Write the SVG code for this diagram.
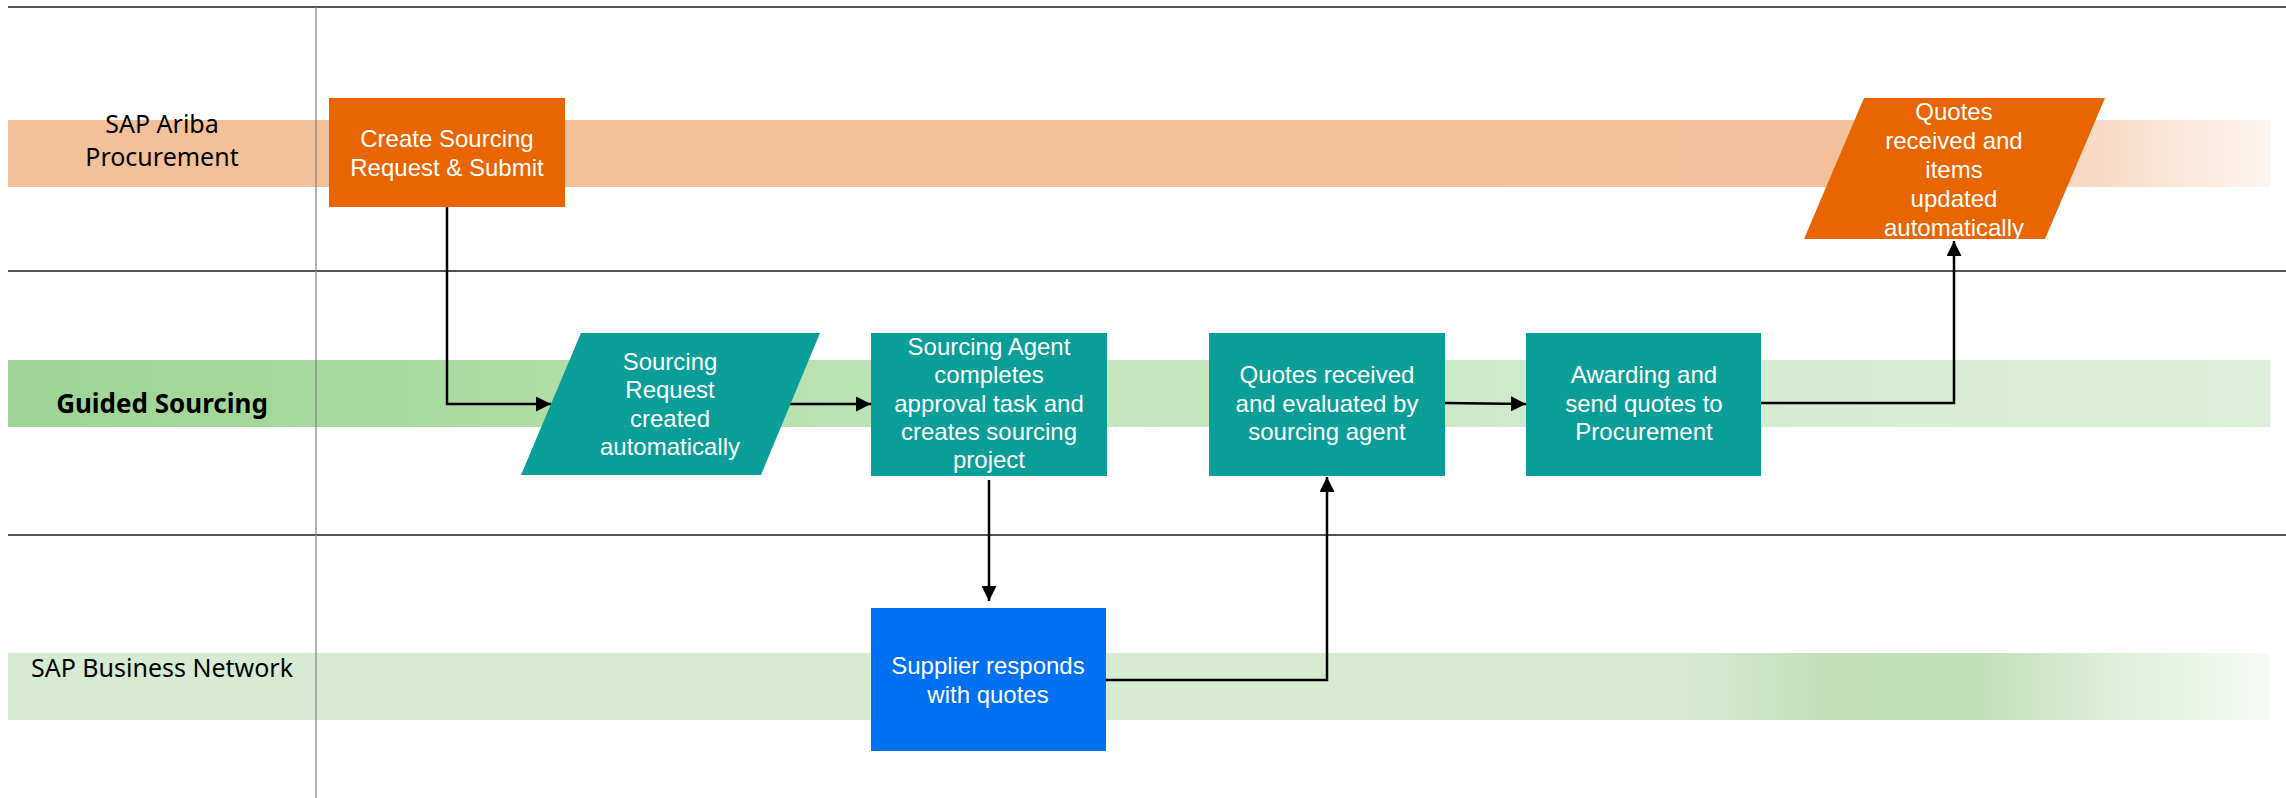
<svg xmlns="http://www.w3.org/2000/svg" width="2286" height="798" viewBox="0 0 2286 798">
<style>
.lane{font-family:"Noto Sans","Liberation Sans",sans-serif;font-size:25px;fill:#000;}
.laneb{font-family:"Noto Sans","Liberation Sans",sans-serif;font-size:26px;font-weight:bold;fill:#000;}
.nt{font-family:"Liberation Sans",Arial,sans-serif;font-size:24px;fill:#fff;text-anchor:middle;}
.conn{fill:none;stroke:#000;stroke-width:2.5;}
.div{stroke:#1a1a1a;stroke-width:1.5;}
.orange{fill:#e86500;}
.teal{fill:#0a9e99;}
.blue{fill:#0070f2;}
</style>
<defs>
<linearGradient id="gOr" x1="0" y1="0" x2="1" y2="0">
<stop offset="0" stop-color="#f4c09a"/>
<stop offset="0.81" stop-color="#f3c09b"/>
<stop offset="0.93" stop-color="#f8dcc8"/>
<stop offset="1" stop-color="#fdf5ef"/>
</linearGradient>
<linearGradient id="gGs" x1="0" y1="0" x2="1" y2="0">
<stop offset="0" stop-color="#9dd594"/>
<stop offset="0.14" stop-color="#a6d99d"/>
<stop offset="0.35" stop-color="#b8e1b0"/>
<stop offset="0.45" stop-color="#c3e5bd"/>
<stop offset="0.6" stop-color="#c8e7c2"/>
<stop offset="0.7" stop-color="#d3ebcf"/>
<stop offset="1" stop-color="#dcefd8"/>
</linearGradient>
<linearGradient id="gBn" x1="0" y1="0" x2="1" y2="0">
<stop offset="0" stop-color="#d6ebd2"/>
<stop offset="0.74" stop-color="#d6ebd2"/>
<stop offset="0.8" stop-color="#c2e1ba"/>
<stop offset="0.87" stop-color="#c0e0b8"/>
<stop offset="0.93" stop-color="#dcefd8"/>
<stop offset="1" stop-color="#f6faf5"/>
</linearGradient>
<marker id="arr" markerUnits="userSpaceOnUse" markerWidth="16" markerHeight="15" refX="15" refY="7.5" orient="auto">
<path d="M0,0 L15,7.5 L0,15 z" fill="#000"/>
</marker>
</defs>

<g id="lanes">
<rect x="8" y="120" width="2262" height="67" fill="url(#gOr)"/>
<rect x="8" y="360" width="2262" height="67" fill="url(#gGs)"/>
<rect x="8" y="653" width="2262" height="67" fill="url(#gBn)"/>
<line class="div" x1="8" y1="7" x2="2286" y2="7"/>
<line class="div" x1="8" y1="271" x2="2286" y2="271"/>
<line class="div" x1="8" y1="535" x2="2286" y2="535"/>
<line x1="316" y1="7" x2="316" y2="798" stroke="#808080" stroke-width="1.2"/>
<text class="lane" text-anchor="middle"><tspan x="162" y="133">SAP Ariba</tspan><tspan x="162" y="166">Procurement</tspan></text>
<text class="laneb" x="162" y="413" text-anchor="middle">Guided Sourcing</text>
<text class="lane" x="162" y="677" text-anchor="middle">SAP Business Network</text>
</g>

<g id="connectors">
<polyline class="conn" points="447,207 447,404 551,404" marker-end="url(#arr)"/>
<line class="conn" x1="790" y1="404" x2="871" y2="404" marker-end="url(#arr)"/>
<line class="conn" x1="989" y1="480" x2="989" y2="601" marker-end="url(#arr)"/>
<polyline class="conn" points="1106,680 1327,680 1327,477" marker-end="url(#arr)"/>
<line class="conn" x1="1445" y1="403" x2="1526" y2="404" marker-end="url(#arr)"/>
<polyline class="conn" points="1761,403 1954,403 1954,241" marker-end="url(#arr)"/>
</g>

<g id="n-create">
<rect class="orange" x="329" y="98" width="236" height="109"/>
<text class="nt"><tspan x="447" y="147">Create Sourcing</tspan><tspan x="447" y="176">Request &amp; Submit</tspan></text>
</g>

<g id="n-request">
<polygon class="teal" points="581,333 820,333 761,475 521,475"/>
<text class="nt"><tspan x="670" y="370">Sourcing</tspan><tspan x="670" y="398">Request</tspan><tspan x="670" y="427">created</tspan><tspan x="670" y="455">automatically</tspan></text>
</g>

<g id="n-agent">
<rect class="teal" x="871" y="333" width="236" height="143"/>
<text class="nt"><tspan x="989" y="355">Sourcing Agent</tspan><tspan x="989" y="383">completes</tspan><tspan x="989" y="412">approval task and</tspan><tspan x="989" y="440">creates sourcing</tspan><tspan x="989" y="468">project</tspan></text>
</g>

<g id="n-evaluated">
<rect class="teal" x="1209" y="333" width="236" height="143"/>
<text class="nt"><tspan x="1327" y="383">Quotes received</tspan><tspan x="1327" y="412">and evaluated by</tspan><tspan x="1327" y="440">sourcing agent</tspan></text>
</g>

<g id="n-awarding">
<rect class="teal" x="1526" y="333" width="235" height="143"/>
<text class="nt"><tspan x="1644" y="383">Awarding and</tspan><tspan x="1644" y="412">send quotes to</tspan><tspan x="1644" y="440">Procurement</tspan></text>
</g>

<g id="n-quotes-updated">
<polygon class="orange" points="1864,98 2105,98 2045,239 1804,239"/>
<text class="nt"><tspan x="1954" y="120">Quotes</tspan><tspan x="1954" y="149">received and</tspan><tspan x="1954" y="178">items</tspan><tspan x="1954" y="207">updated</tspan><tspan x="1954" y="236">automatically</tspan></text>
</g>

<g id="n-supplier">
<rect class="blue" x="871" y="608" width="235" height="143"/>
<text class="nt"><tspan x="988" y="674">Supplier responds</tspan><tspan x="988" y="703">with quotes</tspan></text>
</g>
</svg>
